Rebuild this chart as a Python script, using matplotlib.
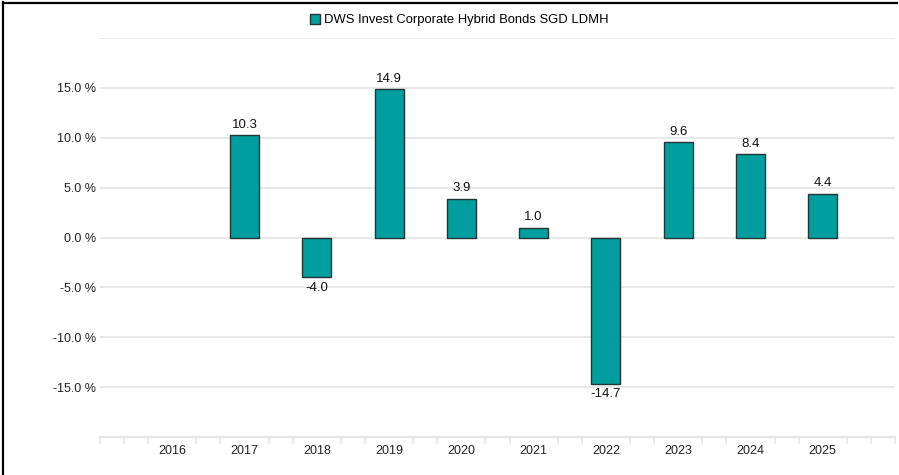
import matplotlib
matplotlib.use("Agg")
import matplotlib.pyplot as plt
import numpy as np
from matplotlib.patches import Patch
from matplotlib.lines import Line2D

plt.rcParams['font.family'] = ['Liberation Sans', 'DejaVu Sans']

years = ['2016', '2017', '2018', '2019', '2020', '2021', '2022', '2023', '2024', '2025']
values = [np.nan, 10.3, -4.0, 14.9, 3.9, 1.0, -14.7, 9.6, 8.4, 4.4]
series_name = 'DWS Invest Corporate Hybrid Bonds SGD LDMH'
yticks = [-15, -10, -5, 0, 5, 10, 15]

bar_color = '#019E9F'
edge_color = '#243333'
grid_color = '#e6e6e6'

fig = plt.figure(figsize=(8.99, 4.75), dpi=100)
ax = fig.add_axes([100/899, 38/475, 795/899, 399/475])

x = np.arange(len(years))
vals = np.array(values, dtype=float)
ax.bar(x, vals, width=0.4, color=bar_color, edgecolor=edge_color, linewidth=1.0, zorder=3)

for xi, v in zip(x, vals):
    if np.isnan(v):
        continue
    if v >= 0:
        ax.annotate(f'{v:.1f}', (xi, v), xytext=(0, 3), textcoords='offset points',
                    ha='center', va='bottom', fontsize=9.5, color='#111111')
    else:
        ax.annotate(f'{v:.1f}', (xi, v), xytext=(0, -3), textcoords='offset points',
                    ha='center', va='top', fontsize=9.5, color='#111111')

ax.set_xlim(-1, 10)
ax.set_ylim(-20, 20)
ax.set_yticks(yticks)
ax.set_yticklabels([f'{t:.1f} %' for t in yticks], fontsize=9, color='#222222')
ax.set_xticks(x)
ax.set_xticklabels(years, fontsize=9, color='#222222')
ax.tick_params(axis='x', length=0, pad=6)
ax.tick_params(axis='y', length=0, pad=3)

minor = [i / 3 for i in range(-3, 31) if i % 3 != 0] + [-1, 10]
ax.set_xticks(minor, minor=True)
ax.tick_params(axis='x', which='minor', length=5, width=1.2, color=grid_color)

for t in yticks + [20]:
    ax.axhline(t, color=grid_color, linewidth=1.3, zorder=1)

for s in ['top', 'right', 'left']:
    ax.spines[s].set_visible(False)
ax.spines['bottom'].set_color(grid_color)
ax.spines['bottom'].set_linewidth(1.5)

handle = Patch(facecolor=bar_color, edgecolor=edge_color, linewidth=1.0)
fig.legend([handle], [series_name], loc='center', bbox_to_anchor=(0.511, 1 - 20/475),
           frameon=False, fontsize=9.4, handlelength=0.8, handleheight=0.8,
           handletextpad=0.3)

fig.add_artist(Line2D([3/899, 3/899], [0, 1 - 2/475], color='black', linewidth=1.6,
                      transform=fig.transFigure))
fig.add_artist(Line2D([3/899, 897/899], [1 - 3/475, 1 - 3/475], color='black', linewidth=1.6,
                      transform=fig.transFigure))

fig.savefig('out.png', dpi=100)
